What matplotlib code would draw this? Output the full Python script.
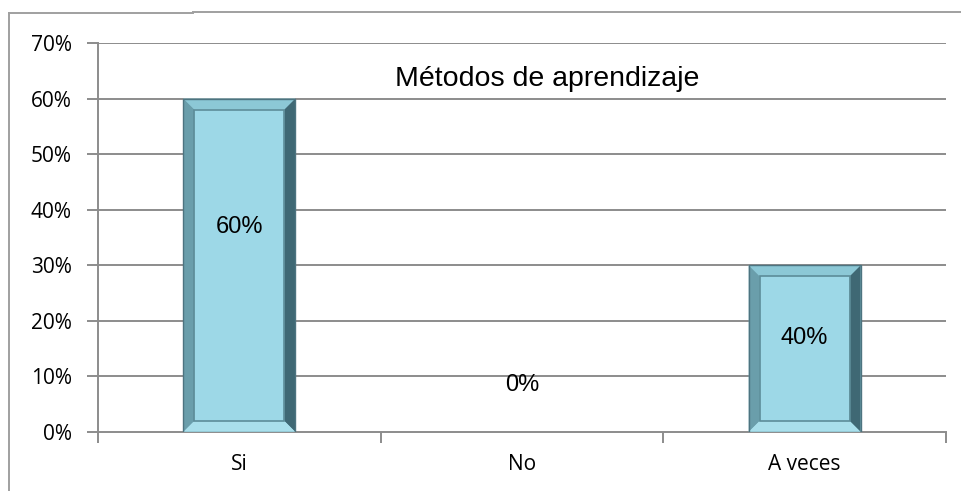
import matplotlib
matplotlib.use('Agg')
import matplotlib.pyplot as plt
from matplotlib.lines import Line2D
from matplotlib.patches import Polygon, Rectangle
from matplotlib.ticker import FixedLocator, NullFormatter

# data
categories = ['Si', 'No', 'A veces']
values = [0.60, 0.0, 0.30]
value_labels = ['60%', '0%', '40%']
y_ticks = [0.0, 0.1, 0.2, 0.3, 0.4, 0.5, 0.6, 0.7]
y_tick_labels = ['0%', '10%', '20%', '30%', '40%', '50%', '60%', '70%']
title = 'Métodos de aprendizaje'

# where the value labels sit (fraction of bar height, or fixed height for 0)
label_frac = [0.615, 0.0, 0.565]
zero_label_y = 0.085

W, H = 961, 491
fig = plt.figure(figsize=(W / 100, H / 100), dpi=100)
ax = fig.add_axes([98 / W, 1 - 432 / H, 848 / W, 389 / H])

ax.set_xlim(0, len(categories))
ax.set_ylim(0, 0.7)

grid_col = '#8c8c8c'
for y in y_ticks[1:]:
    ax.axhline(y, color=grid_col, lw=1.4, zorder=1)

for s in ['top', 'right']:
    ax.spines[s].set_visible(False)
for s in ['left', 'bottom']:
    ax.spines[s].set_color(grid_col)
    ax.spines[s].set_linewidth(1.4)

ax.set_yticks(y_ticks)
ax.set_yticklabels(y_tick_labels, fontsize=15, family='Open Sans')
ax.tick_params(axis='y', length=8, width=1.4, color=grid_col, pad=11)

# category ticks sit on the boundaries, labels in the middle
ax.xaxis.set_major_locator(FixedLocator(range(len(categories) + 1)))
ax.xaxis.set_major_formatter(NullFormatter())
ax.xaxis.set_minor_locator(FixedLocator([i + 0.5 for i in range(len(categories))]))
ax.set_xticklabels(categories, minor=True, fontsize=15, family='Open Sans')
ax.tick_params(axis='x', which='minor', length=0, pad=16)
ax.tick_params(axis='x', which='major', length=8, width=1.4, color=grid_col)

# bevel size in data units (about 10 px)
bar_w = 112 / 848 * len(categories)
bx = 11 / 848 * len(categories)
by = 11 / 389 * 0.7

face = '#9dd8e7'
for i, v in enumerate(values):
    if v <= 0:
        continue
    x0, x1 = i + 0.5 - bar_w / 2, i + 0.5 + bar_w / 2
    ax.add_patch(Rectangle((x0, 0), bar_w, v, facecolor=face, edgecolor='none', zorder=2))
    # top, left, right, bottom bevel strips
    ax.add_patch(Polygon([(x0, v), (x1, v), (x1 - bx, v - by), (x0 + bx, v - by)],
                         facecolor='#8cc8d6', edgecolor='none', zorder=3))
    ax.add_patch(Polygon([(x0, v), (x0 + bx, v - by), (x0 + bx, by), (x0, 0)],
                         facecolor='#6a9eab', edgecolor='none', zorder=3))
    ax.add_patch(Polygon([(x1, v), (x1 - bx, v - by), (x1 - bx, by), (x1, 0)],
                         facecolor='#3f6874', edgecolor='none', zorder=3))
    ax.add_patch(Polygon([(x0, 0), (x1, 0), (x1 - bx, by), (x0 + bx, by)],
                         facecolor='#a9dfeb', edgecolor='none', zorder=3))
    ax.add_patch(Rectangle((x0 + bx, by), bar_w - 2 * bx, v - 2 * by, facecolor='none',
                           edgecolor='#5d8d99', lw=1.2, zorder=4))
    ax.add_patch(Rectangle((x0, 0), bar_w, v, facecolor='none',
                           edgecolor='#4d7480', lw=1.0, zorder=4))

for i, (v, lab) in enumerate(zip(values, value_labels)):
    y = v * label_frac[i] if v > 0 else zero_label_y
    ax.text(i + 0.5, y, lab, ha='center', va='center', fontsize=17,
            family='Liberation Sans', zorder=5)

ax.text(0.53, 0.907, title, transform=ax.transAxes, ha='center', va='center',
        fontsize=20.5, family='Liberation Sans', zorder=5)

# outer chart frame (only top and left show)
frame_col = '#a0a0a0'
fig.add_artist(Line2D([9 / W, 193 / W], [1 - 13 / H, 1 - 13 / H], color=frame_col, lw=1.4))
fig.add_artist(Line2D([193 / W, 1], [1 - 12 / H, 1 - 12 / H], color=frame_col, lw=1.4))
fig.add_artist(Line2D([9 / W, 9 / W], [0, 1 - 13 / H], color=frame_col, lw=1.4))

fig.savefig('out.png', dpi=100)
